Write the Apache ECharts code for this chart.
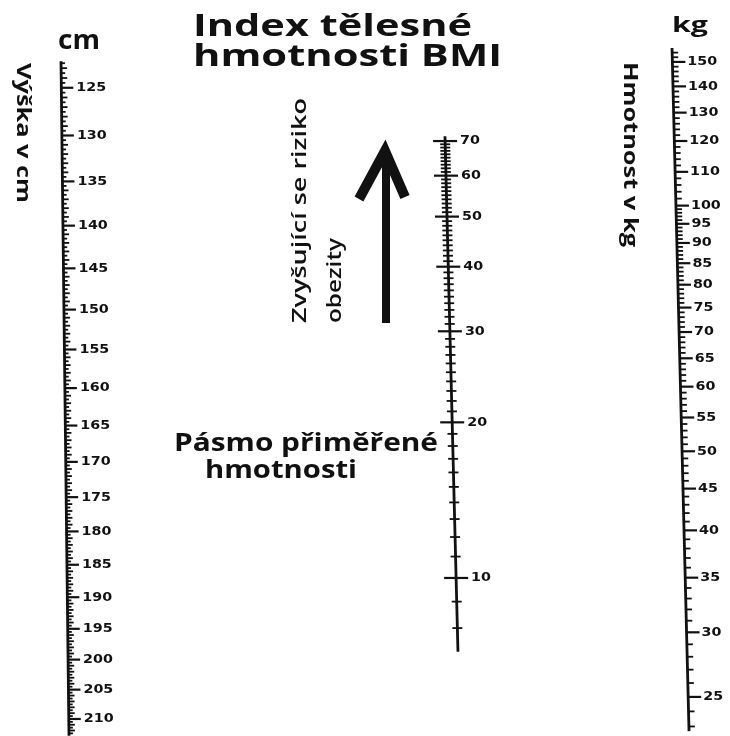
<!DOCTYPE html>
<html><head><meta charset="utf-8">
<script src="https://cdn.jsdelivr.net/npm/echarts@6/dist/echarts.min.js"></script>
<style>html,body{margin:0;padding:0;background:#fff}#c{width:730px;height:736px}</style>
</head><body><div id="c"></div>
<script>
// ---- data: scale values ----
const heightLabels = [125,130,135,140,145,150,155,160,165,170,175,180,185,190,195,200,205,210];
const heightTickRange = [122.5, 212.5];  // minor ticks every 0.5 cm
const heightLineRange = [122.3, 212.9];
const bmiLabels = [10,20,30,40,50,60,70];
const bmiTickRange = [8, 69];            // minor ticks every 1 unit
const bmiLineRange = [7.2, 71.5];
const weightLabels = [25,30,35,40,45,50,55,60,65,70,75,80,85,90,95,100,110,120,130,140,150];
const weightTicks1kg = [23, 99];         // minor ticks every 1 kg
const weightTicks2kg = [102, 154];       // minor ticks every 2 kg
const weightLineRange = [22.7, 156];

// ---- tick lists ----
function range(a, b, s) { const r = []; for (let v = a; v <= b + 1e-9; v += s) r.push(Math.round(v * 10) / 10); return r; }
function ticks(labels, minor) {
  const set = new Set(labels);
  const out = labels.map(v => [0, v, 2]);
  minor.forEach(v => { if (!set.has(v)) out.push([0, v, Number.isInteger(v) ? 1 : 0]); });
  return out;
}
const heightData = ticks(heightLabels, range(heightTickRange[0], heightTickRange[1], 0.5));
const bmiData = ticks(bmiLabels, range(bmiTickRange[0], bmiTickRange[1], 1));
const weightData = ticks(weightLabels, range(weightTicks1kg[0], weightTicks1kg[1], 1).concat(range(weightTicks2kg[0], weightTicks2kg[1], 2)));

const INK = '#111';
const LABEL_FONT = 'bold 13px "DejaVu Sans"';

// geometry of each (slightly slanted) scale line
const geo = {
  height: { x0: 61, y0: 60, slope: 8 / 676, mode: 'right', len: [4, 6, 12], lw: 2.8 },
  bmi:    { x0: 445, y0: 137, slope: 13 / 516, mode: 'cross', len: [5, 5, 12], lw: 2.8 },
  weight: { x0: 672, y0: 47, slope: 17 / 683, mode: 'right', len: [6, 6, 13], lw: 2.8 }
};

function xAt(g, y) { return g.x0 + g.slope * (y - g.y0); }

function tickSeries(yAxisIndex, data, g) {
  return {
    type: 'custom', yAxisIndex, xAxisIndex: 0, silent: true, clip: false,
    data, encode: { x: 0, y: 1 },
    renderItem(params, api) {
      const v = api.value(1), level = api.value(2);
      const y = api.coord([0, v])[1];
      const x = xAt(g, y);
      const len = g.len[level];
      const x1 = g.mode === 'cross' ? x - len : x;
      const x2 = x + len;
      const children = [{
        type: 'line', shape: { x1, y1: y, x2, y2: y },
        style: { stroke: INK, lineWidth: level === 2 ? 2.2 : 1.8 }
      }];
      if (level === 2) {
        children.push({
          type: 'text', x: x + 15, y: y, scaleX: 1.1,
          style: { text: String(v), font: LABEL_FONT, fill: INK, align: 'left', verticalAlign: 'middle' }
        });
      }
      return { type: 'group', children };
    }
  };
}
function lineSeries(yAxisIndex, lineRange, g) {
  return {
    type: 'custom', yAxisIndex, xAxisIndex: 0, silent: true, clip: false,
    data: [[0, lineRange[0]], [0, lineRange[1]]], encode: { x: 0, y: 1 },
    renderItem(params, api) {
      if (params.dataIndex !== 0) return null;
      const ya = api.coord([0, lineRange[0]])[1];
      const yb = api.coord([0, lineRange[1]])[1];
      return { type: 'line', shape: { x1: xAt(g, ya), y1: ya, x2: xAt(g, yb), y2: yb },
               style: { stroke: INK, lineWidth: g.lw } };
    }
  };
}

// text fitting helper (stretch horizontally to the reference width)
const ctx = document.createElement('canvas').getContext('2d');
function fit(text, font, width) { ctx.font = font; return width / ctx.measureText(text).width; }

function label(text, font, x, y, width, opts) {
  opts = opts || {};
  return {
    type: 'text', x, y, rotation: opts.rotation || 0, scaleX: fit(text, font, width),
    style: { text, font, fill: INK, align: 'left', verticalAlign: 'middle' }
  };
}

const TITLE_FONT = 'bold 31px "Open Sans"';
const SIDE_FONT = 'bold 20px "Open Sans"';
const ARROW_FONT = '600 20px "Open Sans"';
const BAND_FONT = 'bold 25px "Open Sans"';

const chart = echarts.init(document.getElementById('c'), null, { renderer: 'canvas' });
chart.setOption({
  backgroundColor: '#fff',
  animation: false,
  grid: { left: 0, right: 0, top: 0, bottom: 0 },
  xAxis: { type: 'value', min: 0, max: 730, show: false },
  yAxis: [
    { type: 'log', min: 116.30, max: 212.96, inverse: true, show: false },
    { type: 'log', min: 4.9467, max: 131.2, show: false },
    { type: 'log', min: 22.39, max: 178.64, show: false }
  ],
  series: [
    lineSeries(0, heightLineRange, geo.height), tickSeries(0, heightData, geo.height),
    lineSeries(1, bmiLineRange, geo.bmi), tickSeries(1, bmiData, geo.bmi),
    lineSeries(2, weightLineRange, geo.weight), tickSeries(2, weightData, geo.weight)
  ],
  graphic: [
    label('Index tělesné', TITLE_FONT, 193, 27, 279),
    label('hmotnosti BMI', TITLE_FONT, 193, 57, 309),
    label('cm', 'bold 27px "Open Sans"', 58, 41, 42),
    label('kg', 'bold 22px "Open Sans"', 672, 26, 36),
    label('Výška v cm', SIDE_FONT, 23, 63, 140, { rotation: -Math.PI / 2 }),
    label('Hmotnost v kg', SIDE_FONT, 630, 62, 185, { rotation: -Math.PI / 2 }),
    label('Zvyšující se riziko', ARROW_FONT, 300, 323, 225, { rotation: Math.PI / 2 }),
    label('obezity', ARROW_FONT, 335, 323, 85, { rotation: Math.PI / 2 }),
    label('Pásmo přiměřené', BAND_FONT, 174, 444, 264),
    label('hmotnosti', BAND_FONT, 205, 471, 152),
    { type: 'polyline', shape: { points: [[386, 323], [386, 156]] },
      style: { stroke: INK, lineWidth: 8, fill: null } },
    { type: 'polyline', shape: { points: [[359, 199], [385, 151], [405, 197]] },
      style: { stroke: INK, lineWidth: 10, fill: null, lineJoin: 'miter', miterLimit: 10 } }
  ]
});
</script></body></html>
